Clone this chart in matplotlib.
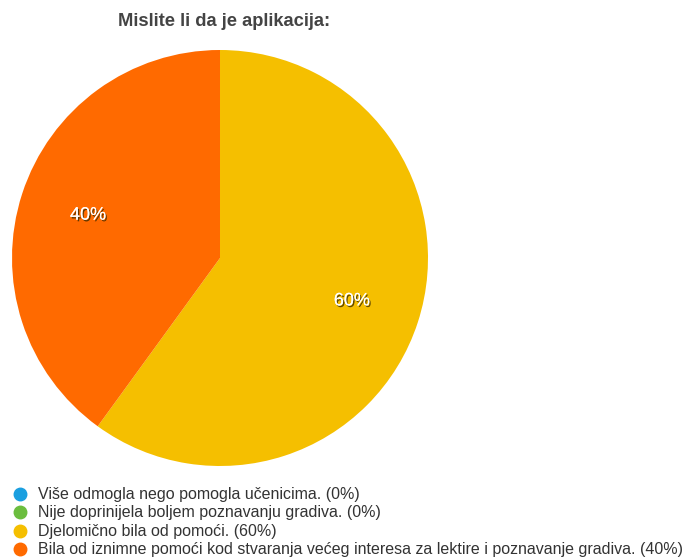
import matplotlib
matplotlib.use("Agg")
import matplotlib.pyplot as plt
import matplotlib.patheffects as pe
from matplotlib.lines import Line2D

plt.rcParams['font.family'] = ['Liberation Sans', 'DejaVu Sans']

title = "Mislite li da je aplikacija:"
categories = [
    "Više odmogla nego pomogla učenicima.",
    "Nije doprinijela boljem poznavanju gradiva.",
    "Djelomično bila od pomoći.",
    "Bila od iznimne pomoći kod stvaranja većeg interesa za lektire i poznavanje gradiva.",
]
percent = [0, 0, 60, 40]
colors = ["#1a9fe0", "#6bbd3e", "#f5bf00", "#ff6a00"]

W, H = 686, 558
fig = plt.figure(figsize=(W / 100, H / 100), dpi=100)
ax = fig.add_axes([12 / W, (H - 466) / H, 416 / W, 416 / H])

wedges, _, autotexts = ax.pie(
    percent, colors=colors, startangle=90, counterclock=False,
    autopct=lambda p: f"{p:.0f}%" if p > 0 else "",
    pctdistance=0.667, wedgeprops=dict(linewidth=0),
    textprops=dict(color="white", fontsize=13),
)
for t in autotexts:
    t.set_path_effects([
        pe.withSimplePatchShadow(offset=(1, -1.2), shadow_rgbFace="#3a2a00", alpha=0.8),
        pe.Normal(),
    ])
ax.set_xlim(-1, 1)
ax.set_ylim(-1, 1)
ax.set_aspect("equal")
ax.axis("off")

fig.text(224 / W, 1 - 22 / H, title, ha="center", va="center",
         fontsize=13.2, fontweight="bold", color="#444444")

# legend rows: coloured dot + label
row_y = [494, 512, 531, 549]
for y, c, cat, p in zip(row_y, colors, categories, percent):
    fig.add_artist(Line2D([20 / W], [1 - y / H], marker="o", linestyle="none",
                          markersize=9, markerfacecolor=c, markeredgecolor=c,
                          transform=fig.transFigure))
    fig.text(38 / W, 1 - (y + 5) / H, f"{cat} ({p}%)", ha="left", va="baseline",
             fontsize=11.5, color="#333333")

fig.savefig("out.png", dpi=100)
